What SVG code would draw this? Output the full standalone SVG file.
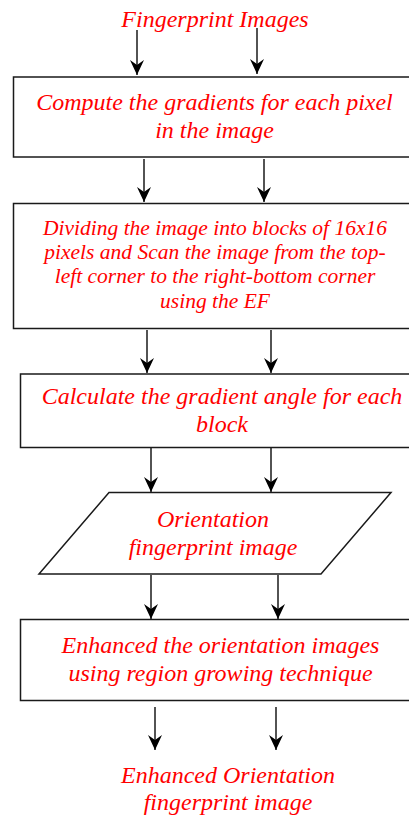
<svg xmlns="http://www.w3.org/2000/svg" width="409" height="816" viewBox="0 0 409 816">
<defs>
<style>
.box{fill:#fff;stroke:#1a1a1a;stroke-width:1.5}
.t{font-family:'Liberation Serif','DejaVu Serif',serif;font-style:italic;fill:#ff0000;text-anchor:middle;font-size:24px}
.s{font-size:21.5px}
.c{stroke:#1a1a1a;stroke-width:1.5;fill:none;marker-end:url(#ah)}
</style>
<marker id="ah" markerWidth="16" markerHeight="14" refX="15" refY="7" orient="auto" markerUnits="userSpaceOnUse" viewBox="0 0 16 14">
<path d="M0,0 L15,7 L0,14 L5,7 Z" fill="#000"/>
</marker>
</defs>
<rect width="409" height="816" fill="#fff"/>
<g id="input"><text class="t" x="215" y="27">Fingerprint Images</text></g>
<g id="step1">
<rect class="box" x="13.5" y="77" width="410" height="80"/>
<text class="t" x="214.5" y="110">Compute the gradients for each pixel</text>
<text class="t" x="214.5" y="138">in the image</text>
</g>
<g id="step2">
<rect class="box" x="13.5" y="203.5" width="410" height="125"/>
<text class="t s" x="215" y="235">Dividing the image into blocks of 16x16</text>
<text class="t s" x="215" y="259">pixels and Scan the image from the top-</text>
<text class="t s" x="215" y="283">left corner to the right-bottom corner</text>
<text class="t s" x="215" y="308">using the EF</text>
</g>
<g id="step3">
<rect class="box" x="20.5" y="374" width="410" height="73.5"/>
<text class="t" x="222" y="404">Calculate the gradient angle for each</text>
<text class="t" x="222" y="432">block</text>
</g>
<g id="orientation">
<polygon class="box" points="109,492.5 391,492.5 321,574 39,574"/>
<text class="t" x="213" y="527">Orientation</text>
<text class="t" x="213" y="555">fingerprint image</text>
</g>
<g id="step4">
<rect class="box" x="20.5" y="619.5" width="410" height="81"/>
<text class="t" x="220.5" y="653">Enhanced the orientation images</text>
<text class="t" x="220.5" y="681">using region growing technique</text>
</g>
<g id="output">
<text class="t" x="228" y="783">Enhanced Orientation</text>
<text class="t" x="228" y="810">fingerprint image</text>
</g>
<g id="connectors">
<line class="c" x1="137" y1="30" x2="137" y2="75"/>
<line class="c" x1="257" y1="28" x2="257" y2="74"/>
<line class="c" x1="144" y1="159" x2="144" y2="202"/>
<line class="c" x1="264" y1="159" x2="264" y2="202"/>
<line class="c" x1="147" y1="330" x2="147" y2="373"/>
<line class="c" x1="271" y1="330" x2="271" y2="373"/>
<line class="c" x1="151" y1="448" x2="151" y2="492"/>
<line class="c" x1="271" y1="448" x2="271" y2="492"/>
<line class="c" x1="151" y1="575" x2="151" y2="619"/>
<line class="c" x1="278" y1="575" x2="278" y2="619"/>
<line class="c" x1="155" y1="707" x2="155" y2="750"/>
<line class="c" x1="276" y1="707" x2="276" y2="750"/>
</g>
</svg>
